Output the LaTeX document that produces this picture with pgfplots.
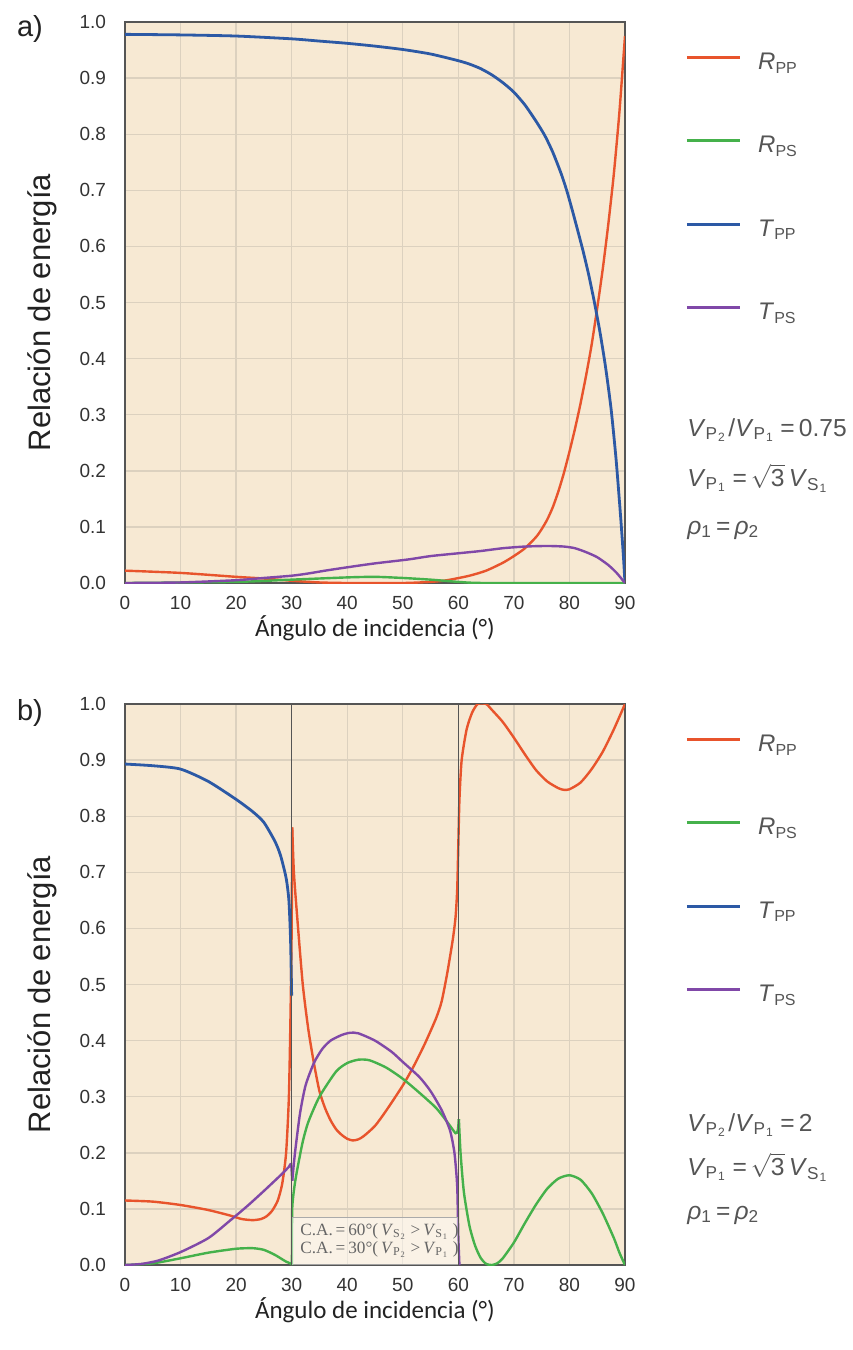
\documentclass[border=0pt]{standalone}
\usepackage{fontspec}
\setmainfont{Liberation Sans}
\newfontfamily\calibri{Carlito}
\newfontfamily\timesf{Liberation Serif}
\usepackage{pgfplots}
\pgfplotsset{compat=1.18}
\definecolor{bgc}{HTML}{F7E9D3}
\definecolor{gridc}{HTML}{DCD1BF}
\definecolor{framec}{HTML}{555555}
\definecolor{tickc}{HTML}{333333}
\definecolor{labc}{HTML}{222222}
\definecolor{cR}{HTML}{E8542C}
\definecolor{cG}{HTML}{45B14B}
\definecolor{cB}{HTML}{2C59A5}
\definecolor{cP}{HTML}{8048A8}
\newcommand\Vsub[2]{\textit{V}\textsubscript{#1\kern0.06em\textsubscript{#2}}\kern0.06em}
\pgfplotsset{
  myax/.style={
    scale only axis, width=250pt, height=280.5pt,
    xmin=0, xmax=90, ymin=0, ymax=1,
    xtick={0,10,20,30,40,50,60,70,80,90},
    ytick={0,0.1,0.2,0.3,0.4,0.5,0.6,0.7,0.8,0.9,1},
    grid=major, major grid style={gridc, line width=0.7pt},
    axis background/.style={fill=bgc},
    axis line style={framec, line width=0.8pt},
    major tick length=0pt,
    tick label style={font=\fontsize{9.5}{10}\selectfont, text=tickc},
    /pgf/number format/assume math mode=true,
    yticklabel style={/pgf/number format/fixed, /pgf/number format/fixed zerofill, /pgf/number format/precision=1},
    xticklabel style={yshift=-3pt},
    yticklabel style={xshift=-6pt},
    xlabel={Ángulo de incidencia (°)},
    ylabel={Relación de energía},
    xlabel style={font=\calibri\fontsize{12.5}{14}\selectfont, text=labc, at={(axis description cs:0.5,-0.08)}, anchor=center},
    ylabel style={font=\fontsize{15.5}{17}\selectfont, text=labc, at={(axis description cs:-0.166,0.482)}, anchor=center},
    legend style={at={(axis description cs:1.12,0.9447)}, anchor=north west,
      draw=none, fill=none, inner sep=0pt, row sep=30.7pt, column sep=8.5pt,
      nodes={inner sep=0pt, text height=8pt, text depth=3pt, anchor=west},
      font=\fontsize{12}{13}\selectfont, text=framec},
    legend cell align=left,
    legend image code/.code={\draw[#1,line width=1.4pt] (0pt,3.5pt) -- (26.5pt,3.5pt);},
  },
  cline/.style={line width=1.2pt, no markers, smooth, tension=0.4},
}
\begin{document}
\begin{tikzpicture}
\path (0,0) rectangle (426pt,-675pt);
% ---------------- panel a ----------------
\begin{axis}[myax, at={(62.5pt,-291.5pt)}, anchor=south west]
\addplot[cline, cR] coordinates {
(0,0.022) (10,0.018) (20,0.011) (25,0.008) (30,0.004) (35,0.001) (40,0) (50,0) (55,0.002) (58,0.005) (62,0.013) (65,0.022) (68,0.036) (70,0.048) (72,0.062) (74,0.082) (75,0.096) (76,0.113) (77,0.135) (78,0.163) (79,0.196) (80,0.234) (81,0.275) (82,0.32) (83,0.37) (84,0.425) (85,0.49) (86,0.56) (87,0.64) (88,0.73) (89,0.84) (90,0.975)};
\addlegendentry{\textit{R}\textsubscript{PP}}
\addplot[cline, cG] coordinates {
(0,0) (20,0.002) (30,0.006) (40,0.01) (45,0.011) (50,0.009) (55,0.006) (60,0.002) (65,0) (90,0)};
\addlegendentry{\textit{R}\textsubscript{PS}}
\addplot[cline, cB, line width=1.4pt] coordinates {
(0,0.978) (10,0.977) (20,0.975) (30,0.97) (35,0.966) (40,0.962) (45,0.957) (50,0.951) (55,0.943) (60,0.931) (62,0.925) (64,0.917) (66,0.906) (68,0.892) (70,0.875) (72,0.852) (74,0.823) (75.6,0.797) (77,0.768) (78.5,0.73) (79.5,0.7) (80.5,0.665) (81.5,0.628) (82.5,0.59) (83.5,0.548) (84.5,0.5) (85.5,0.447) (86.5,0.385) (87.5,0.31) (88.4,0.22) (89.2,0.12) (89.7,0.05) (90,0)};
\addlegendentry{\textit{T}\textsubscript{PP}}
\addplot[cline, cP] coordinates {
(0,0) (10,0.001) (20,0.005) (25,0.009) (30,0.013) (33,0.017) (36,0.022) (40,0.028) (45,0.035) (51,0.042) (55,0.048) (60,0.053) (64,0.057) (68,0.062) (72,0.065) (76,0.066) (79,0.065) (81,0.062) (83,0.055) (85,0.046) (87,0.032) (88.5,0.018) (90,0)};
\addlegendentry{\textit{T}\textsubscript{PS}}
\end{axis}
% ---------------- panel b ----------------
\begin{axis}[myax, at={(62.5pt,-632.5pt)}, anchor=south west]
\addplot[cline, cR] coordinates {
(0,0.115) (5,0.113) (10,0.107) (15,0.098) (19,0.088) (21,0.082) (23,0.08) (24.5,0.082) (25.5,0.087) (26.5,0.097) (27.5,0.115) (28.3,0.145) (29,0.2) (29.5,0.3) (29.8,0.45) (30,0.6) (30.1,0.78)};
\addlegendentry{\textit{R}\textsubscript{PP}}
\addplot[cline, cG] coordinates {
(0,0) (5,0.003) (10,0.012) (15,0.022) (20,0.029) (23,0.03) (25,0.027) (27,0.018) (29,0.006) (30,0.002) (30.05,0)};
\addlegendentry{\textit{R}\textsubscript{PS}}
\addplot[cline, cB, line width=1.4pt] coordinates {
(0,0.893) (5,0.89) (10,0.884) (15,0.862) (20,0.83) (23,0.808) (25,0.789) (27,0.755) (28,0.73) (29,0.69) (29.5,0.65) (29.8,0.58) (30,0.48)};
\addlegendentry{\textit{T}\textsubscript{PP}}
\addplot[cline, cP] coordinates {
(0,0) (3,0.002) (6,0.008) (10,0.023) (15,0.048) (19,0.08) (22,0.105) (25,0.132) (28,0.16) (29.5,0.175) (29.9,0.18) (30.1,0.15)};
\addlegendentry{\textit{T}\textsubscript{PS}}
% continuation segments
\addplot[cline, cR, forget plot] coordinates {
(30.1,0.78) (30.4,0.7) (31,0.62) (32,0.5) (33,0.42) (34,0.36) (35,0.31) (36,0.28) (37,0.258) (38,0.242) (39,0.232) (40,0.225) (41,0.222) (42,0.224) (43,0.23) (45,0.248) (47,0.275) (50,0.32) (52,0.355) (54,0.395) (56,0.44) (57,0.47) (58,0.52) (59,0.58) (59.5,0.62) (59.8,0.67) (60,0.75) (60.2,0.83) (60.6,0.9) (61.5,0.955) (62.5,0.985) (63.5,1.0) (65,1.0) (66,0.99) (68,0.968) (70,0.94) (72,0.91) (74,0.882) (76,0.862) (78,0.85) (79,0.847) (80,0.848) (82,0.86) (84,0.884) (86,0.915) (88,0.955) (90,1.0)};
\addplot[cline, cG, forget plot] coordinates {
(30.05,0) (30.1,0.1) (30.5,0.14) (31,0.17) (32,0.22) (33,0.255) (35,0.3) (38,0.345) (40,0.36) (42,0.366) (44,0.365) (47,0.352) (50,0.332) (53,0.307) (56,0.28) (58,0.255) (59.5,0.235) (59.9,0.24) (60.1,0.26)};
\addplot[cline, cG, forget plot] coordinates {
(60.1,0.26) (60.4,0.2) (61,0.13) (62,0.07) (63,0.035) (64,0.013) (65,0.002) (66,0) (67,0.003) (68,0.012) (70,0.04) (72,0.075) (74,0.108) (76,0.136) (78,0.154) (80,0.16) (82,0.152) (84,0.128) (86,0.092) (88,0.048) (89,0.022) (90,0)};
\addplot[cline, cP, forget plot] coordinates {
(30.1,0.15) (30.6,0.2) (31.5,0.27) (32.5,0.32) (34,0.36) (35.5,0.385) (37,0.4) (39,0.41) (40.5,0.414) (42,0.413) (45,0.4) (48,0.38) (50,0.362) (53,0.335) (55,0.31) (57,0.276) (58.5,0.24) (59.3,0.2) (59.8,0.14) (60,0.05) (60.2,0)};
\addplot[forget plot, draw=framec, line width=0.8pt] coordinates {(30,0) (30,1)};
\addplot[forget plot, draw=framec, line width=0.8pt] coordinates {(60,0) (60,1)};
\fill[white, opacity=0.45] (axis cs:30,0) rectangle (axis cs:60,0.084);
\draw[framec!50, line width=0.4pt] (axis cs:30,0.084) -- (axis cs:60,0.084);
\end{axis}
% ---------- labels ----------
\node[font=\fontsize{14.5}{15}\selectfont, text=labc] at (15pt,-14.5pt) {a)};
\node[font=\fontsize{14.5}{15}\selectfont, text=labc] at (15pt,-356.5pt) {b)};
\begin{scope}[every node/.style={anchor=west, font=\fontsize{12.3}{13}\selectfont, text=framec, inner sep=0pt}]
\node at (343.5pt,-215pt) {\Vsub{P}{2}/\Vsub{P}{1}\,=\,0.75};
\node at (343.5pt,-239pt) {\Vsub{P}{1}\,=\,$\sqrt{\mbox{3}}$\,\Vsub{S}{1}};
\node at (343.5pt,-265pt) {\textit{ρ}\textsubscript{1}\,=\,\textit{ρ}\textsubscript{2}};
\node at (343.5pt,-562.5pt) {\Vsub{P}{2}/\Vsub{P}{1}\,=\,2};
\node at (343.5pt,-583.5pt) {\Vsub{P}{1}\,=\,$\sqrt{\mbox{3}}$\,\Vsub{S}{1}};
\node at (343.5pt,-607.5pt) {\textit{ρ}\textsubscript{1}\,=\,\textit{ρ}\textsubscript{2}};
\end{scope}
\begin{scope}[every node/.style={anchor=west, font=\timesf\fontsize{8.6}{9}\selectfont, text=framec!90, inner sep=0pt}]
\node at (150pt,-616pt) {C.A.\,=\,60°(\,\Vsub{S}{2}\,>\,\Vsub{S}{1}\,)};
\node at (150pt,-625pt) {C.A.\,=\,30°(\,\Vsub{P}{2}\,>\,\Vsub{P}{1}\,)};
\end{scope}
\end{tikzpicture}
\end{document}
